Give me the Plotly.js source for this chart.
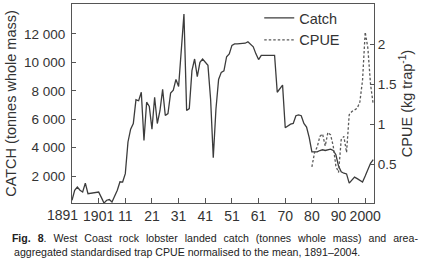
<!DOCTYPE html>
<html>
<head>
<meta charset="utf-8">
<script src="https://cdn.plot.ly/plotly-3.0.1.min.js"></script>
<style>
html,body{margin:0;padding:0;background:#fff;}
#chart{width:422px;height:262px;}
</style>
</head>
<body>
<div id="chart"></div>
<script>
const years = [];
for (let y = 1891; y <= 2004; y++) years.push(y);
const catchValues = [
  300, 1000, 1230, 1000, 880, 1500, 760, 780, 800, 850,
  880, 500, 100, 300, 350, 175, 600, 1000, 1600, 1580,
  2170, 4400, 5300, 5700, 7370, 7300, 7900, 4500, 7200, 6900,
  5300, 7550, 5700, 6600, 8100, 6260, 6400, 7850, 8050, 8800,
  8300, 10800, 13400, 6620, 6750, 9420, 10240, 9000, 10000, 10240,
  10000, 9800, 7400, 3300, 6700, 8800, 9300, 9400, 10400, 10600,
  11200, 11300, 11300, 11300, 11300, 11350, 11450, 11300, 11100, 10600,
  10200, 10500, 10500, 10500, 10500, 10500, 10500, 7900, 8150, 8400,
  5400, 5550, 5650, 5700, 6250, 6300, 6250, 5700, 5450, 4700,
  3700, 3700, 3700, 3800, 3850, 3800, 3850, 3900, 3800, 3500,
  2700, 2300, 2200, 2150, 1500, 1750, 1930, 1820, 1700, 1580,
  2000, 2450, 2900, 3150
];
const cpueYears = [];
for (let y = 1981; y <= 2004; y++) cpueYears.push(y);
const cpueValues = [
  0.47, 0.65, 0.72, 0.85, 0.88, 0.73, 0.90, 0.87, 0.73, 0.48,
  0.40, 0.81, 0.85, 0.65, 1.12, 1.16, 1.18, 1.20, 1.28, 1.55,
  2.15, 1.95, 1.50, 1.25
];
const xTickVals = [1891, 1901, 1911, 1921, 1931, 1941, 1951, 1961, 1971, 1981, 1991, 2001];
const xTickText = ['1891', '1901', '11', '21', '31', '41', '51', '61', '70', '80', '90', '2000'];
const yTickVals = [2000, 4000, 6000, 8000, 10000, 12000];
const yTickText = ['2 000', '4 000', '6 000', '8 000', '10 000', '12 000'];
const y2TickVals = [0.5, 1, 1.5, 2];
const y2TickText = ['0.5', '1', '1.5', '2'];
const captionLine1 = '<b>Fig. 8</b>. West Coast rock lobster landed catch (tonnes whole mass) and area-';
const captionLine2 = 'aggregated standardised trap CPUE normalised to the mean, 1891\u20132004.';

const FONT = 'Liberation Sans, Arial, Helvetica, sans-serif';
const AXC = '#555';
const TXT = '#333';

const traces = [
  {x: years, y: catchValues, type: 'scatter', mode: 'lines', name: 'Catch',
   line: {color: '#3c3c3c', width: 1.3}},
  {x: cpueYears, y: cpueValues, type: 'scatter', mode: 'lines', name: 'CPUE', yaxis: 'y2',
   line: {color: '#5a5a5a', width: 1.3, dash: '2.5px,2px'}}
];

// first x label is printed shifted left of its tick in the original
const shownXTickText = xTickText.map((t, i) => (i === 0 ? '' : t));

const layout = {
  width: 422, height: 262,
  margin: {l: 72, r: 48, t: 3, b: 59},
  paper_bgcolor: '#fff', plot_bgcolor: '#fff',
  font: {family: FONT, color: TXT, size: 13.5},
  showlegend: true,
  legend: {x: 0.62, y: 1.005, xanchor: 'left', yanchor: 'top', bgcolor: 'rgba(0,0,0,0)',
           font: {family: FONT, size: 14.5, color: TXT}, itemwidth: 30, tracegroupgap: 0},
  xaxis: {range: [1891, 2004.3], tickvals: xTickVals, ticktext: shownXTickText, tickangle: 0,
          ticks: 'inside', ticklen: 5, tickcolor: AXC, tickwidth: 1,
          showline: true, linecolor: AXC, linewidth: 1, mirror: true,
          showgrid: false, zeroline: false,
          tickfont: {family: FONT, size: 14, color: TXT}},
  yaxis: {range: [105, 14110], tickvals: yTickVals, ticktext: yTickText,
          ticks: 'inside', ticklen: 4, tickcolor: AXC, ticklabelstandoff: 3,
          showline: true, linecolor: AXC, linewidth: 1,
          showgrid: false, zeroline: false,
          tickfont: {family: FONT, size: 13.5, color: TXT},
          title: {text: 'CATCH (tonnes whole mass)', font: {family: FONT, size: 14.5, color: TXT}, standoff: 3}},
  yaxis2: {overlaying: 'y', side: 'right', range: [0.02, 2.5], tickvals: y2TickVals, ticktext: y2TickText,
           ticks: 'inside', ticklen: 4, tickcolor: AXC,
           showline: true, linecolor: AXC, linewidth: 1,
           showgrid: false, zeroline: false,
           tickfont: {family: FONT, size: 13.5, color: TXT},
           title: {text: 'CPUE (kg trap<sup>-1</sup>)', font: {family: FONT, size: 14.5, color: TXT}, standoff: 6}},
  annotations: [
    {xref: 'x', yref: 'paper', x: xTickVals[0], y: 0, xanchor: 'center', yanchor: 'top',
     xshift: -9.5, yshift: -2, text: xTickText[0], showarrow: false,
     font: {family: FONT, size: 14, color: TXT}},
    {xref: 'paper', yref: 'paper', x: 0.4735, y: -0.175, xanchor: 'center', yanchor: 'middle',
     text: captionLine1, showarrow: false, font: {family: FONT, size: 10.6, color: '#222'}},
    {xref: 'paper', yref: 'paper', x: -0.199, y: -0.245, xanchor: 'left', yanchor: 'middle',
     text: captionLine2, showarrow: false, font: {family: FONT, size: 10.6, color: '#222'}}
  ]
};

Plotly.newPlot('chart', traces, layout, {staticPlot: true, displayModeBar: false}).then(function (gd) {
  // justify the first caption line like the printed figure (spreads symmetrically around its centre)
  const ann = gd.querySelectorAll('.annotation-text');
  if (ann.length > 1) {
    const t = ann[1];
    const w = t.getComputedTextLength ? t.getComputedTextLength() : 0;
    const target = 406;
    const gaps = 12;
    if (w > 0 && w < target) t.style.wordSpacing = ((target - w) / gaps).toFixed(2) + 'px';
  }
});
</script>
</body>
</html>
